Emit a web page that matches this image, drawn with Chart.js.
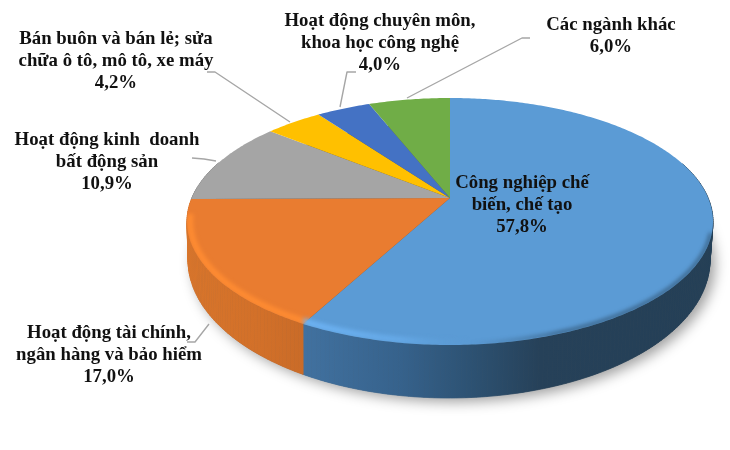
<!DOCTYPE html>
<html>
<head>
<meta charset="utf-8">
<style>html,body{margin:0;padding:0;background:#fff}canvas{display:block}</style>
<script src="https://cdn.jsdelivr.net/npm/chart.js@4"></script>
</head>
<body>
<canvas id="c" width="730" height="450"></canvas>
<script>
const categories = [
  "Công nghiệp chế biến, chế tạo",
  "Hoạt động tài chính, ngân hàng và bảo hiểm",
  "Hoạt động kinh doanh bất động sản",
  "Bán buôn và bán lẻ; sửa chữa ô tô, mô tô, xe máy",
  "Hoạt động chuyên môn, khoa học công nghệ",
  "Các ngành khác"
];
const values = [57.8, 17.0, 10.9, 4.2, 4.0, 6.0];
const valueLabels = ["57,8%", "17,0%", "10,9%", "4,2%", "4,0%", "6,0%"];
const labelLines = [
  ["Công nghiệp chế", "biến, chế tạo"],
  ["Hoạt động tài chính,", "ngân hàng và bảo hiểm"],
  ["Hoạt động kinh  doanh", "bất động sản"],
  ["Bán buôn và bán lẻ; sửa", "chữa ô tô, mô tô, xe máy"],
  ["Hoạt động chuyên môn,", "khoa học công nghệ"],
  ["Các ngành khác"]
];
const colors = ["#5b9bd5", "#e97c30", "#a5a5a5", "#ffc000", "#4472c4", "#70ad47"];

const labelAnchors = [[522,188],[109,338],[107,145],[116,44],[380,26],[611,30]];
const leaderPaths = [
  null,
  [[187,342],[195,342],[209,324]],
  [[192,158],[204,159],[216,161]],
  [[207,72],[215,72],[290,122]],
  [[356,72],[347,72],[340,107]],
  [[530,38],[522,38],[407,98]]
];
const TOP = {cx:450, cy:221.5, rx:263, ry:123.5};
const BOT = {cx:449, cy:260, rx:261, ry:138};
const V = -0.19;
const S = Math.sqrt(1 - V*V);
const disc = a => { const x=Math.cos(a), y=Math.sin(a), d=1+V*y; return [x*S/d, (y+V)/d]; };
const px = (E,p) => [E.cx+E.rx*p[0], E.cy+E.ry*p[1]];

function stops(ctx, list){
  const g = ctx.createLinearGradient(180,0,720,0);
  list.forEach(s => g.addColorStop((s[0]-180)/540, s[1]));
  return g;
}

const pie3d = {
  id:'pie3d',
  beforeDatasetsDraw(chart){
    const ctx = chart.ctx, arcs = chart.getDatasetMeta(0).data;
    ctx.save();
    // soft shadow of the base
    ctx.save();
    ctx.shadowColor='rgba(0,0,0,0.38)'; ctx.shadowBlur=13; ctx.shadowOffsetX=5; ctx.shadowOffsetY=4;
    ctx.fillStyle='#555';
    ctx.beginPath(); ctx.ellipse(BOT.cx,BOT.cy,BOT.rx,BOT.ry,0,0,Math.PI*2); ctx.fill();
    ctx.restore();
    // side wall (front-facing part only)
    const sideFill = [
      stops(ctx,[[180,'#41719f'],[305,'#41719f'],[400,'#36628c'],[470,'#2d5273'],[540,'#264159'],[720,'#243f56']]),
      stops(ctx,[[180,'#d8752b'],[260,'#d27029'],[305,'#c96b28'],[720,'#c96b28']]),
      '#808080','#bf9000','#335593','#548235'
    ];
    arcs.forEach((arc,i)=>{
      const n=Math.max(4,Math.ceil((arc.endAngle-arc.startAngle)*60));
      ctx.fillStyle=sideFill[i]; ctx.strokeStyle=sideFill[i]; ctx.lineWidth=0.7;
      for(let k=0;k<n;k++){
        const a0=arc.startAngle+(arc.endAngle-arc.startAngle)*k/n;
        const a1=arc.startAngle+(arc.endAngle-arc.startAngle)*(k+1)/n;
        if(Math.sin(a0)<-0.3 && Math.sin(a1)<-0.3) continue;
        const p0=disc(a0), p1=disc(a1);
        const a=px(TOP,p0),b=px(TOP,p1),c=px(BOT,p1),d=px(BOT,p0);
        ctx.beginPath();ctx.moveTo(a[0],a[1]);ctx.lineTo(b[0],b[1]);ctx.lineTo(c[0],c[1]);ctx.lineTo(d[0],d[1]);ctx.closePath();
        ctx.fill();ctx.stroke();
      }
    });
    // top face
    arcs.forEach((arc,i)=>{
      const n=Math.max(8,Math.ceil((arc.endAngle-arc.startAngle)*80));
      ctx.beginPath();
      const c0=px(TOP,[0,V]); ctx.moveTo(c0[0],c0[1]);
      for(let k=0;k<=n;k++){
        const q=px(TOP,disc(arc.startAngle+(arc.endAngle-arc.startAngle)*k/n));
        ctx.lineTo(q[0],q[1]);
      }
      ctx.closePath();
      ctx.fillStyle=arc.options.backgroundColor; ctx.fill();
    });
    // bevel along the front rim
    ctx.save();
    ctx.beginPath(); ctx.ellipse(TOP.cx,TOP.cy,TOP.rx,TOP.ry,0,0,Math.PI*2); ctx.clip();
    ctx.filter='blur(2px)';
    ctx.lineWidth=6;
    ctx.strokeStyle=stops(ctx,[[180,'rgba(255,140,50,1)'],[303,'rgba(255,140,50,1)'],[305,'rgba(110,180,245,1)'],[400,'rgba(110,180,245,0.6)'],[470,'rgba(91,155,213,0)'],[720,'rgba(91,155,213,0)']]);
    ctx.beginPath(); ctx.ellipse(TOP.cx,TOP.cy,TOP.rx-3,TOP.ry-3,0,Math.PI*0.4,Math.PI*1.02); ctx.stroke();
    ctx.strokeStyle=stops(ctx,[[180,'rgba(36,63,86,0)'],[470,'rgba(36,63,86,0)'],[560,'rgba(36,63,86,0.75)'],[720,'rgba(36,63,86,0.75)']]);
    ctx.lineWidth=3;
    ctx.beginPath(); ctx.ellipse(TOP.cx,TOP.cy,TOP.rx-1,TOP.ry-1,0,Math.PI*0.03,Math.PI*0.55); ctx.stroke();
    ctx.restore();
    ctx.restore();
    return false;
  },
  afterDraw(chart){
    const ctx=chart.ctx;
    ctx.save();
    ctx.strokeStyle='#a6a6a6'; ctx.lineWidth=1.4; ctx.lineJoin='round';
    leaderPaths.forEach(p=>{
      if(!p) return;
      ctx.beginPath(); p.forEach((q,i)=> i?ctx.lineTo(q[0],q[1]):ctx.moveTo(q[0],q[1])); ctx.stroke();
    });
    ctx.fillStyle='#111'; ctx.textAlign='center'; ctx.textBaseline='alphabetic';
    ctx.font='bold 18.8px "Liberation Serif"';
    labelLines.forEach((lines,i)=>{
      const all=lines.concat([valueLabels[i]]);
      all.forEach((t,j)=>ctx.fillText(t,labelAnchors[i][0],labelAnchors[i][1]+j*22));
    });
    ctx.restore();
  }
};

new Chart(document.getElementById('c'),{
  type:'pie',
  data:{labels:categories,datasets:[{data:values,backgroundColor:colors,borderWidth:0}]},
  options:{
    responsive:false,animation:false,
    plugins:{legend:{display:false},tooltip:{enabled:false},title:{display:false}}
  },
  plugins:[pie3d]
});
</script>
</body>
</html>
